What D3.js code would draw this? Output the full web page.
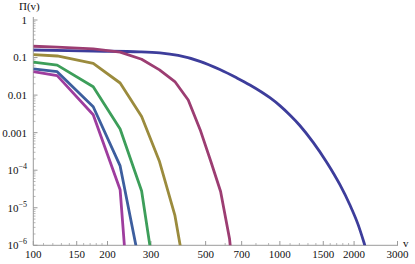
<!DOCTYPE html>
<html>
<head>
<meta charset="utf-8">
<script src="https://cdn.jsdelivr.net/npm/d3@7"></script>
<style>
  body { margin: 0; background: #fff; }
  svg { display: block; font-family: "Liberation Serif", "DejaVu Serif", serif; }
</style>
</head>
<body>
<script>
// x values where the stepped curves have their vertices
const vSteps = [100, 125, 175, 225, 275, 325, 375, 425, 475, 525, 575, 625, 675];

// long smooth curve
const bigV = [100, 175, 271, 326, 387, 474, 571, 668, 756, 911, 1000, 1098, 1205, 1365, 1546, 1750, 1922, 2077, 2211, 2300];
const bigP = [0.159, 0.149, 0.142, 0.133, 0.1135, 0.0794, 0.0479, 0.0288, 0.0186, 0.00851, 0.00525, 0.00295, 0.00155, 5.5e-4, 1.66e-4, 4.17e-5, 1.2e-5, 3.55e-6, 1.0e-6, 4.3e-7];

// stepped curves (values at vSteps)
const maroonP = [0.2, 0.19, 0.17, 0.14, 0.09, 0.047, 0.023, 0.0074, 0.0012, 1.7e-4, 2.7e-5, 1.5e-6, 1e-8];
const oliveP = [0.12, 0.11, 0.07, 0.021, 0.0027, 1.7e-4, 6.4e-6, 6e-8];
const greenP = [0.076, 0.063, 0.0167, 0.00125, 2.8e-5, 2e-8];
const blueP = [0.05, 0.042, 0.0049, 1.3e-4, 1.7e-7];
const purpleP = [0.042, 0.033, 0.003, 3e-5, 1e-12];

const colors = ["#3d3d9b", "#9c3d72", "#9b8b3d", "#3d9e5a", "#3d5e9e", "#9e3d9e"];

const xMajor = [100, 150, 200, 300, 500, 700, 1000, 1500, 2000, 3000];
const xMinor = [110, 120, 130, 140, 160, 170, 180, 190, 600, 800, 900, 1100, 1200, 1300, 1400, 1600, 1700, 1800, 1900];
const yMajorExp = [0, -1, -2, -3, -4, -5, -6];
const yPlainLabels = { "0": "1", "-1": "0.1", "-2": "0.01", "-3": "0.001" };

const W = 415, H = 264;
const x = d3.scaleLog().domain([100, 3000]).range([33.3, 397.5]);
const y = d3.scaleLog().domain([1e-6, 1]).range([245.3, 20]);

const svg = d3.select("body").append("svg").attr("width", W).attr("height", H);

svg.append("defs").append("clipPath").attr("id", "plot")
  .append("rect").attr("x", 33.3).attr("y", 0).attr("width", 366).attr("height", 245.3);

const axisColor = "#9a9a9a";
const g = svg.append("g");

// y axis
g.append("line").attr("x1", 33.3).attr("x2", 33.3).attr("y1", 17).attr("y2", 245.3)
  .attr("stroke", axisColor).attr("stroke-width", 1);
yMajorExp.forEach((e) => {
  const yy = y(Math.pow(10, e));
  g.append("line").attr("x1", 33.3).attr("x2", 37.5).attr("y1", yy).attr("y2", yy)
    .attr("stroke", axisColor);
  // minor ticks 2..9 of each decade
  for (let k = 2; k <= 9 && e < 0; k++) {
    const ym = y(k * Math.pow(10, e));
    g.append("line").attr("x1", 33.3).attr("x2", 35.5).attr("y1", ym).attr("y2", ym)
      .attr("stroke", axisColor).attr("stroke-width", 0.7);
  }
  const t = g.append("text").attr("x", 27).attr("y", yy).attr("dy", "0.35em")
    .attr("text-anchor", "end").style("font-size", "11px").attr("fill", "#111");
  if (yPlainLabels[String(e)] !== undefined) {
    t.text(yPlainLabels[String(e)]);
  } else {
    t.append("tspan").text("10");
    t.append("tspan").attr("dy", -5).style("font-size", "8px").text("\u2212" + (-e));
  }
});

// x axis
g.append("line").attr("x1", 33.3).attr("x2", 398).attr("y1", 245.3).attr("y2", 245.3)
  .attr("stroke", axisColor);
xMajor.forEach((v) => {
  g.append("line").attr("x1", x(v)).attr("x2", x(v)).attr("y1", 245.3).attr("y2", 241)
    .attr("stroke", axisColor);
  g.append("text").attr("x", x(v)).attr("y", 258).attr("text-anchor", "middle")
    .style("font-size", "11px").attr("fill", "#111").text(v);
});
xMinor.forEach((v) => {
  g.append("line").attr("x1", x(v)).attr("x2", x(v)).attr("y1", 245.3).attr("y2", 243)
    .attr("stroke", axisColor).attr("stroke-width", 0.7);
});

// axis titles
g.append("text").attr("x", 19).attr("y", 10).style("font-size", "11px").attr("fill", "#111").text("\u03A0(v)");
g.append("text").attr("x", 403).attr("y", 247).style("font-size", "11px").attr("fill", "#111").text("v");

// curves
const lineLin = d3.line().x((d) => x(d[0])).y((d) => y(d[1]));
const lineSmooth = d3.line().x((d) => x(d[0])).y((d) => y(d[1])).curve(d3.curveMonotoneX);

const series = [
  { pts: bigV.map((v, i) => [v, bigP[i]]), smooth: true },
  { pts: maroonP.map((p, i) => [vSteps[i], p]) },
  { pts: oliveP.map((p, i) => [vSteps[i], p]) },
  { pts: greenP.map((p, i) => [vSteps[i], p]) },
  { pts: blueP.map((p, i) => [vSteps[i], p]) },
  { pts: purpleP.map((p, i) => [vSteps[i], p]) },
];

const curves = svg.append("g").attr("clip-path", "url(#plot)");
series.forEach((s, i) => {
  curves.append("path")
    .attr("d", (s.smooth ? lineSmooth : lineLin)(s.pts))
    .attr("fill", "none")
    .attr("stroke", colors[i])
    .attr("stroke-width", 2.8)
    .attr("stroke-linejoin", "round");
});
</script>
</body>
</html>
